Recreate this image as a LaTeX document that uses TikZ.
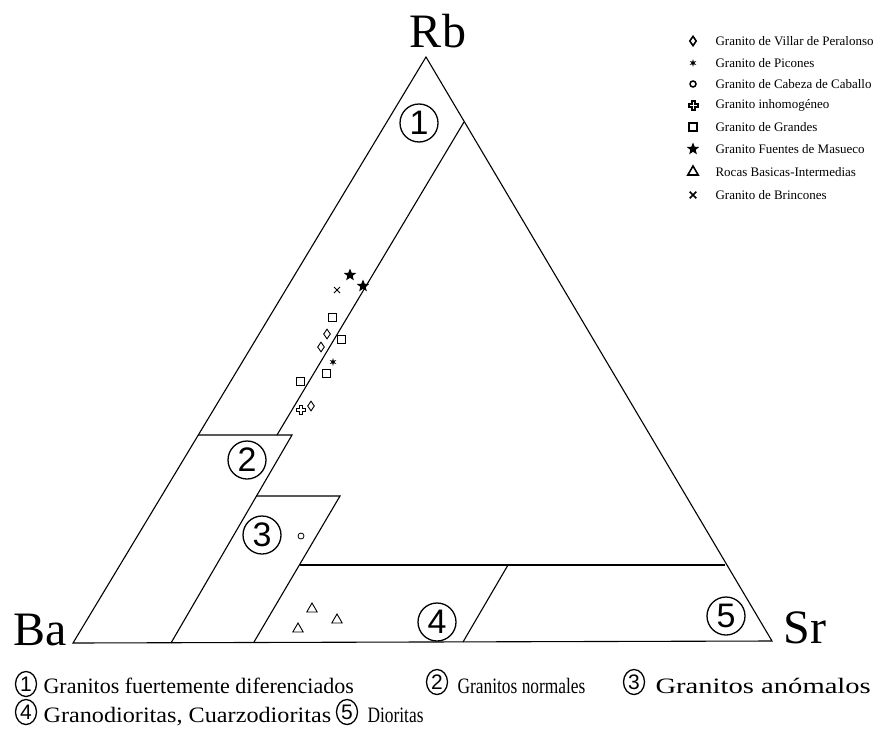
\documentclass[tikz,border=0pt]{standalone}
\usepackage{fontspec}
\setmainfont{Liberation Serif}
\newfontfamily\digitfont{Liberation Sans}
\usepackage{graphicx}
\usetikzlibrary{shapes.geometric,shapes.misc}

\begin{document}
\begin{tikzpicture}[x=1pt,y=-1pt,line width=1.1pt,
  every node/.style={inner sep=0pt},
  zone/.style={draw,circle,minimum size=38pt,line width=1.3pt,font=\digitfont\fontsize{34}{34}\selectfont},
  keynum/.style={draw,ellipse,minimum width=21pt,minimum height=25pt,line width=1.3pt,font=\digitfont\fontsize{21}{21}\selectfont},
  corner/.style={anchor=base,font=\rmfamily\fontsize{48}{48}\selectfont},
  keytext/.style={anchor=base west,font=\rmfamily\fontsize{22}{22}\selectfont},
  symtext/.style={anchor=west,font=\rmfamily\fontsize{13}{13}\selectfont},
  mksq/.style={draw,rectangle,minimum size=8pt,line width=0.9pt},
  mkdia/.style={draw,diamond,minimum width=7pt,minimum height=10pt,line width=0.9pt},
  mkring/.style={draw,circle,minimum size=6pt,line width=0.8pt},
  mktri/.style={draw,regular polygon,regular polygon sides=3,minimum size=12pt,line width=0.9pt},
  mkstar/.style={fill,star,star points=5,star point ratio=2.3,minimum size=13pt},
  mkast/.style={fill,star,star points=6,star point ratio=2.8,minimum size=8pt},
  mkx/.style={draw,cross out,minimum size=5pt,line width=1pt},
  mkplus/.pic={\draw (-1.5,-4.5) -- (1.5,-4.5) -- (1.5,-1.5) -- (4.5,-1.5) -- (4.5,1.5) -- (1.5,1.5)
      -- (1.5,4.5) -- (-1.5,4.5) -- (-1.5,1.5) -- (-4.5,1.5) -- (-4.5,-1.5) -- (-1.5,-1.5) -- cycle;},
]
\useasboundingbox (0,0) rectangle (888,739);

% triangle Ba - Rb - Sr
\coordinate (Ba) at (73,643);
\coordinate (Rb) at (426,57);
\coordinate (Sr) at (772,641);
\draw (Ba) -- (Rb) -- (Sr) -- cycle;
\node[corner] (lRb) at (438,47) {Rb};
\node[corner] (lBa) at (40,645) {Ba};
\node[corner] (lSr) at (805,643) {Sr};

% field borders
\draw (464,122) -- (277,435);
\draw (198,435) -- (292,435) -- (171,643);
\draw (256,496) -- (340,496) -- (254,642);
\draw (300,565) -- (725,565);
\draw (508,565) -- (463,642);

% field numbers
\node[zone] (z1) at (419,123) {1};
\node[zone] (z2) at (247,460) {2};
\node[zone] (z3) at (262,535) {3};
\node[zone] (z4) at (437,622) {4};
\node[zone] (z5) at (726,616) {5};

% samples
\node[mkstar] (fm1) at (350,275) {};
\node[mkstar] (fm2) at (363,286) {};
\node[mkx] (br1) at (337,290) {};
\node[mksq] (gr1) at (332,317) {};
\node[mksq] (gr2) at (341,339) {};
\node[mksq] (gr3) at (326,373) {};
\node[mksq] (gr4) at (300,381) {};
\node[mkdia] (vp1) at (327,334) {};
\node[mkdia] (vp2) at (321,347) {};
\node[mkdia] (vp3) at (311,406) {};
\node[mkast] (pi1) at (333,362) {};
\pic[line width=0.9pt] at (301,410) {mkplus};
\node[mkring] (cc1) at (301,536) {};
\node[mktri] (rb1) at (312,609) {};
\node[mktri] (rb2) at (337,620) {};
\node[mktri] (rb3) at (298,629) {};

% symbol key
\node[mkdia,line width=1.6pt] (s1) at (693,41) {};
\node[symtext] (t1) at (715,41) {Granito de Villar de Peralonso};
\node[mkast] (s2) at (693,63) {};
\node[symtext] (t2) at (715,63) {Granito de Picones};
\node[mkring,line width=1.5pt] (s3) at (693,84) {};
\node[symtext] (t3) at (715,84) {Granito de Cabeza de Caballo};
\pic[line width=2pt] at (693,105) {mkplus};
\node[symtext] (t4) at (715,105) {Granito inhomogéneo};
\node[mksq,line width=1.6pt] (s5) at (693,127) {};
\node[symtext] (t5) at (715,127) {Granito de Grandes};
\node[mkstar] (s6) at (693,149) {};
\node[symtext] (t6) at (715,149) {Granito Fuentes de Masueco};
\node[mktri,line width=1.6pt] (s7) at (693,172) {};
\node[symtext] (t7) at (715,172) {Rocas Basicas-Intermedias};
\node[mkx,line width=1.6pt] (s8) at (693,195) {};
\node[symtext] (t8) at (715,195) {Granito de Brincones};

% field key
\node[keynum] (n1) at (26,684) {1};
\node[keytext] (g1) at (43,693) {Granitos fuertemente diferenciados};
\node[keynum] (n2) at (437,682) {2};
\node[keytext] (g2) at (457,693) {\scalebox{0.79}[1]{Granitos normales}};
\node[keynum] (n3) at (634,682) {3};
\node[keytext] (g3) at (655,693) {\scalebox{1.3}[1]{Granitos anómalos}};
\node[keynum] (n4) at (26,712) {4};
\node[keytext] (g4) at (43,722) {\scalebox{1.1}[1]{Granodioritas, Cuarzodioritas}};
\node[keynum] (n5) at (347,712) {5};
\node[keytext] (g5) at (367,722) {\scalebox{0.79}[1]{Dioritas}};
\end{tikzpicture}
\end{document}
